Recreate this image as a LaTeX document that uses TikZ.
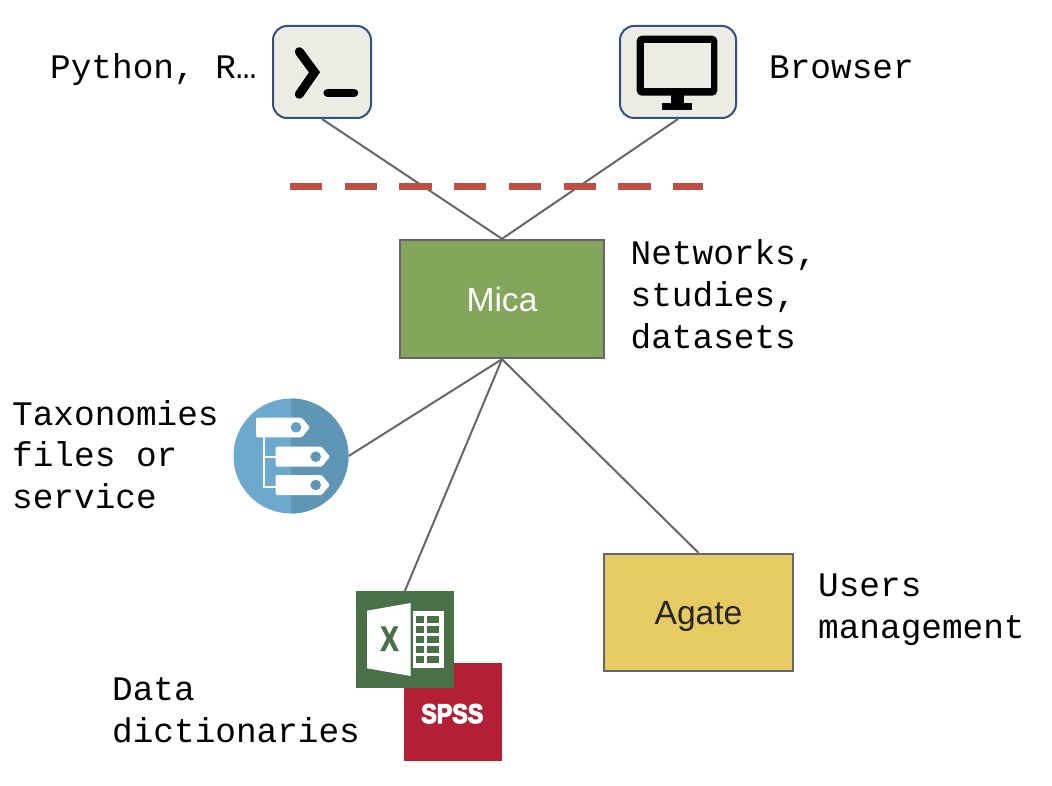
\documentclass[tikz,border=0pt]{standalone}
\usepackage{fontspec}
\setmainfont{Liberation Sans}
\setmonofont{Liberation Mono}
\newfontfamily\spssfont[FakeBold=4.5]{Liberation Sans Bold}
\newfontfamily\xlfont[FakeBold=2]{Liberation Sans Bold}
\definecolor{lnk}{HTML}{666666}
\definecolor{iconbg}{HTML}{ECECE4}
\definecolor{iconedge}{HTML}{33507F}
\definecolor{cut}{HTML}{BE4F45}
\definecolor{micag}{HTML}{83A65B}
\definecolor{agatey}{HTML}{E6CB62}
\definecolor{taxa}{HTML}{6CA9CC}
\definecolor{taxb}{HTML}{5F96B5}
\definecolor{xlg}{HTML}{4A7048}
\definecolor{spr}{HTML}{B32036}
\tikzset{
  x=1pt,y=-1pt,
  note/.style={font=\ttfamily\fontsize{34.4}{41.5}\selectfont,align=left,anchor=base west,inner sep=0pt,text=black},
  iconbox/.style={draw=iconedge,line width=2pt,fill=iconbg,rounded corners=14pt,inner sep=0pt},
  blockbox/.style={draw=lnk,line width=2.4pt,inner sep=0pt,font=\fontsize{33.6}{40}\selectfont,text height=24.5pt,text depth=0pt},
  link/.style={draw=lnk,line width=2pt},
  tag/.style={fill=white,rounded corners=1.2pt},
  tree/.style={draw=white,line width=2.4pt},
}
\begin{document}
\begin{tikzpicture}
\useasboundingbox (0,0) rectangle (1052,786);
% boxes
\node[iconbox,minimum width=98pt,minimum height=92pt] (py) at (322,72) {};
\node[iconbox,minimum width=116pt,minimum height=92pt] (br) at (678,72) {};
\node[blockbox,fill=micag,text=white,minimum width=204pt,minimum height=118pt] (mica) at (502,299) {Mica};
\node[blockbox,fill=agatey,text=black!85,minimum width=189pt,minimum height=117pt] (agate) at (698.5,612.5) {Agate};
\node[circle,fill=taxa,inner sep=0pt,minimum size=115pt] (tax) at (291,456) {};
\node[fill=spr,inner sep=0pt,minimum width=97.7pt,minimum height=97.7pt] (spss) at (452.8,712.2) {};
\node[fill=xlg,inner sep=0pt,minimum width=97.7pt,minimum height=97pt] (xl) at (404.8,639.8) {};
% connectors
\draw[link] (py.south) -- (mica.north);
\draw[link] (br.south) -- (mica.north);
\draw[link] (tax.east) -- (mica.south);
\draw[link] (xl.north) -- (mica.south);
\draw[link] (agate.north) -- (mica.south);
% cut line
\coordinate (cutl) at (290,186.5);
\coordinate (cutr) at (703,186.5);
\draw[cut,line width=7pt,dash pattern=on 32.3pt off 22.4pt] (cutl) -- (cutr);
% terminal icon
\draw[black,line width=9pt,line cap=round,line join=miter] (299.3,51.7) -- (314.5,72.3) -- (299.3,94.3);
\draw[black,line width=8.6pt,line cap=round] (327.7,93) -- (354,93);
% monitor icon
\fill[black,rounded corners=5pt] (636.7,35.7) rectangle (717.3,95.7);
\fill[iconbg] (644,43) rectangle (710.7,88.3);
\fill[black] (670.7,95) rectangle (684,103.5);
\fill[black] (662.3,103.3) rectangle (691.7,110.3);
% taxonomy icon
\begin{scope}
\clip (291,398) rectangle (350,515);
\fill[taxb] (tax.center) circle[radius=57.5];
\end{scope}
\draw[tree] (264,437) -- (264,486.7) -- (276,486.7);
\draw[tree] (264,456.7) -- (276,456.7);
\fill[tag] (256,417.7) -- (301.7,417.7) -- (310,427.5) -- (301.7,437.4) -- (256,437.4) -- cycle;
\fill[taxb!50!taxa] (296,427.3) circle[radius=5.3];
\fill[tag] (275.7,446.7) -- (321.7,446.7) -- (330,456.7) -- (321.7,466.7) -- (275.7,466.7) -- cycle;
\fill[taxb] (315.7,456.7) circle[radius=5.3];
\fill[tag] (275.7,475) -- (321.7,475) -- (330,485) -- (321.7,495) -- (275.7,495) -- cycle;
\fill[taxb] (315.7,485) circle[radius=5.3];
% excel icon
\fill[white] (367,610.7) -- (410.7,603) -- (410.7,676) -- (367,668.3) -- cycle;
\fill[white] (412.7,611.3) rectangle (443.7,668);
\foreach \ya/\yb in {615.7/622.7,625.7/632.7,635.7/642.7,645.7/652.7,655.7/662.7}{
  \fill[xlg] (415.7,\ya) rectangle (424,\yb);
  \fill[xlg] (426.7,\ya) rectangle (439,\yb);
}
\node[inner sep=0pt,text=xlg,font=\fontsize{35}{35}\selectfont\xlfont,xscale=.78] (xlx) at (389.5,638.8) {X};
% spss text
\node[inner sep=0pt,text=white,font=\fontsize{27}{27}\selectfont\spssfont,xscale=.86] (spsst) at (452.3,713.7) {SPSS};
% labels
\node[note] (lpy) at (50,79) {Python, R…};
\node[note] (lbr) at (769,79) {Browser};
\node[note] (lmica) at (630.5,348) {Networks,\\studies,\\datasets};
\node[note] (ltax) at (12,508) {Taxonomies\\files or\\service};
\node[note] (ldata) at (112,742) {Data\\dictionaries};
\node[note] (lag) at (818,638) {Users\\management};
\end{tikzpicture}
\end{document}
